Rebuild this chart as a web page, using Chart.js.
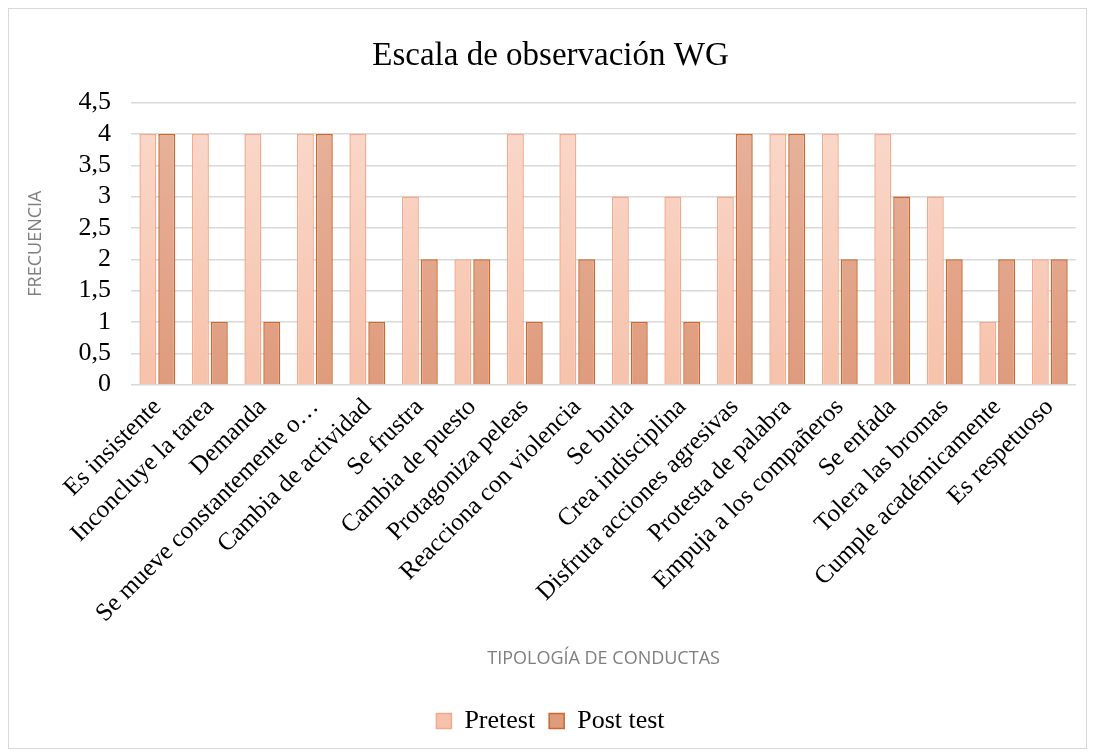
<!DOCTYPE html>
<html>
<head>
    <meta charset="utf-8">
    <title>Escala de observación WG</title>
    <script src="https://cdn.jsdelivr.net/npm/chart.js"></script>
    <style>
        body { margin: 0; background: #fff; }
        #box { position: absolute; left: 8px; top: 8px; width: 1077px; height: 739px; border: 1px solid #d9d9d9; }
    </style>
</head>
<body>
    <div id="box">
        <canvas id="myChart"></canvas>
    </div>
    <script>
        // chart data
        const conductas = [
            'Es insistente', 'Inconcluye la tarea', 'Demanda', 'Se mueve constantemente o…',
            'Cambia de actividad', 'Se frustra', 'Cambia de puesto', 'Protagoniza peleas',
            'Reacciona con violencia', 'Se burla', 'Crea indisciplina', 'Disfruta acciones agresivas',
            'Protesta de palabra', 'Empuja a los compañeros', 'Se enfada', 'Tolera las bromas',
            'Cumple académicamente', 'Es respetuoso'
        ];
        const pretest = [4, 4, 4, 4, 4, 3, 2, 4, 4, 3, 3, 3, 4, 4, 4, 3, 1, 2];
        const postTest = [4, 1, 1, 4, 1, 2, 2, 1, 2, 1, 1, 4, 4, 2, 3, 2, 2, 2];

        const serif = "'Liberation Serif', 'Times New Roman', serif";
        const sans = "'Open Sans', 'Noto Sans', sans-serif";
        Chart.defaults.font.family = serif;

        function grad(top, bottom) {
            return function (context) {
                const area = context.chart.chartArea;
                if (!area) return bottom;
                const g = context.chart.ctx.createLinearGradient(0, area.top, 0, area.bottom);
                g.addColorStop(0, top);
                g.addColorStop(1, bottom);
                return g;
            };
        }

        const ctx = document.getElementById('myChart').getContext('2d');
        const myChart = new Chart(ctx, {
            type: 'bar',
            data: {
                labels: conductas,
                datasets: [{
                    label: 'Pretest',
                    data: pretest,
                    backgroundColor: grad('#fad9cc', '#f6c2ab'),
                    borderColor: '#f2aa8e',
                    borderWidth: 1.5,
                    categoryPercentage: 0.72,
                    barPercentage: 0.9
                }, {
                    label: 'Post test',
                    data: postTest,
                    backgroundColor: grad('#e8b39d', '#df9b7d'),
                    borderColor: '#c9692f',
                    borderWidth: 1.5,
                    categoryPercentage: 0.72,
                    barPercentage: 0.9
                }]
            },
            options: {
                responsive: true,
                maintainAspectRatio: false,
                animation: false,
                layout: { padding: { left: 16, right: 10, top: 8, bottom: 4 } },
                plugins: {
                    title: {
                        display: true,
                        text: 'Escala de observación WG',
                        color: '#000',
                        font: { family: serif, size: 33, weight: 'normal' },
                        padding: { top: 20, bottom: 26 }
                    },
                    legend: {
                        position: 'bottom',
                        labels: {
                            color: '#000',
                            font: { family: serif, size: 26, weight: 'normal' },
                            boxWidth: 15,
                            boxHeight: 15,
                            padding: 14
                        }
                    },
                    tooltip: { enabled: false }
                },
                scales: {
                    x: {
                        grid: { display: false },
                        border: { display: false },
                        ticks: {
                            color: '#000',
                            font: { family: serif, size: 25 },
                            maxRotation: 45,
                            minRotation: 45,
                            autoSkip: false,
                            padding: 0
                        },
                        title: {
                            display: true,
                            text: 'TIPOLOGÍA DE CONDUCTAS',
                            color: '#7f7f7f',
                            font: { family: sans, size: 18 },
                            padding: { top: 20, bottom: 24 }
                        }
                    },
                    y: {
                        min: 0,
                        max: 4.5,
                        grid: { color: '#d9d9d9', lineWidth: 1.5, drawTicks: false },
                        border: { display: false },
                        ticks: {
                            stepSize: 0.5,
                            autoSkip: false,
                            color: '#000',
                            font: { family: serif, size: 26 },
                            padding: 20,
                            callback: v => String(v).replace('.', ',')
                        },
                        title: {
                            display: true,
                            text: 'FRECUENCIA',
                            color: '#7f7f7f',
                            font: { family: sans, size: 18 },
                            padding: { top: 0, bottom: 12 }
                        }
                    }
                }
            }
        });
    </script>
</body>
</html>
